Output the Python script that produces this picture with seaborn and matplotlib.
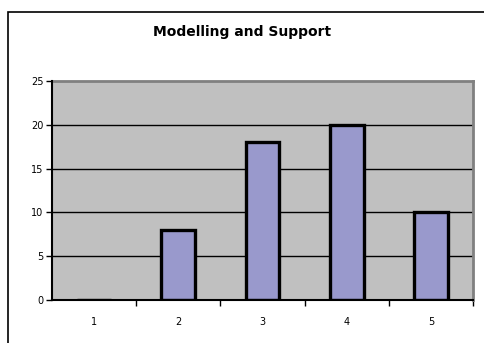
import matplotlib
matplotlib.use("Agg")
import matplotlib.pyplot as plt
import seaborn as sns
import pandas as pd
from matplotlib.patches import Rectangle

categories = ["1", "2", "3", "4", "5"]
values = [0, 8, 18, 20, 10]
y_ticks = [0, 5, 10, 15, 20, 25]

sns.set_style("white")
plt.rcParams["font.family"] = ["Verdana", "DejaVu Sans"]
plt.rcParams["text.color"] = "black"
plt.rcParams["xtick.color"] = "black"
plt.rcParams["ytick.color"] = "black"

df = pd.DataFrame({"category": categories, "value": values})

fig = plt.figure(figsize=(4.85, 3.43), dpi=100)
fig.patch.set_facecolor("white")

# chart frame
fig.patches.append(Rectangle((8 / 485, -0.1), 1.2, (343 - 12) / 343 + 0.1,
                             transform=fig.transFigure, fill=False,
                             edgecolor="black", linewidth=1.2, zorder=0))

ax = fig.add_axes([52 / 485, (343 - 300) / 343, (473 - 52) / 485, (300 - 81) / 343])
ax.set_facecolor("#C0C0C0")

sns.barplot(data=df, x="category", y="value", ax=ax, color="#9999CC",
            width=0.4, edgecolor="black", linewidth=2.4, saturation=1, zorder=3)

ax.set_ylim(0, 25)
ax.set_xlim(-0.5, 4.5)
ax.set_yticks(y_ticks)
ax.set_yticklabels([str(t) for t in y_ticks], fontsize=7)
ax.set_xticks(range(len(categories)))
ax.set_xticklabels(categories, fontsize=7)
ax.set_xlabel("")
ax.set_ylabel("")

# minor ticks between categories
ax.set_xticks([i + 0.5 for i in range(len(categories))], minor=True)
ax.tick_params(axis="x", which="major", bottom=True, length=0, pad=12, labelcolor="black")
ax.tick_params(axis="x", which="minor", bottom=True, length=4, width=1,
               direction="out", color="black")
ax.tick_params(axis="y", which="major", left=True, length=4, width=1,
               direction="out", color="black", pad=2, labelcolor="black")

for t in y_ticks[1:-1]:
    ax.axhline(t, color="black", linewidth=1, zorder=1)

for side in ["top", "right"]:
    ax.spines[side].set_visible(True)
    ax.spines[side].set_color("#808080")
    ax.spines[side].set_linewidth(2)
for side in ["left", "bottom"]:
    ax.spines[side].set_visible(True)
    ax.spines[side].set_color("black")
    ax.spines[side].set_linewidth(1.5)
    ax.spines[side].set_zorder(4)

fig.text(0.5, (343 - 32) / 343, "Modelling and Support", ha="center", va="center",
         fontsize=10, fontweight="bold", color="black")

fig.savefig("out.png", dpi=100)
